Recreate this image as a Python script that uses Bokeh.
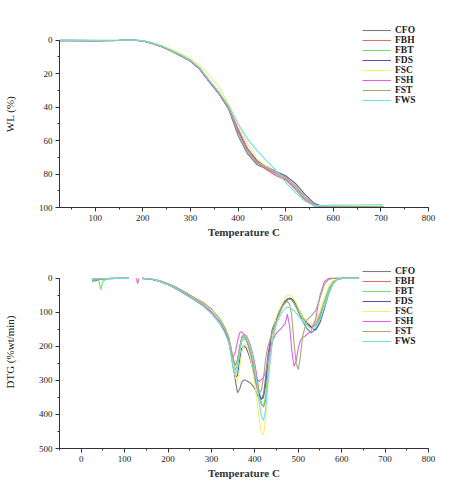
from bokeh.plotting import figure
from bokeh.layouts import column
from bokeh.models import Range1d, SingleIntervalTicker, Legend, LegendItem
from bokeh.embed import file_html
from bokeh.resources import INLINE

nan = float("nan")

names = ["CFO", "FBH", "FBT", "FDS", "FSC", "FSH", "FST", "FWS"]
colors = ["#7c7c7c", "#e07070", "#70dd70", "#5a5aa8", "#f2f070", "#dd66dd", "#a8a878", "#70e0e0"]

# ---------------- TGA (weight loss, %) ----------------
t_tga = [25, 50, 100, 150, 180, 200, 220, 240, 260, 280, 300, 320, 340, 360, 380,
         400, 420, 440, 460, 480, 500, 520, 540, 560, 580, 600, 650, 705]
wl_cfo = [0.3, 0.3, 0.4, 0.2, 0, 0.5, 2, 4, 6.5, 9, 12, 17.5, 25, 32, 41, 57, 68, 74.5, 77, 79.5, 82, 87.5, 94, 98.5, 99.5, 99.5, 99.4, 99.4]
wl_fbh = [0.2, 0.2, 0.3, 0.2, 0, 0.5, 2, 4, 6.5, 9.5, 12.5, 17.5, 25, 32, 40.5, 53, 65, 73, 77.5, 81, 83.5, 89, 95, 99, 99.6, 99.6, 99.6, 99.6]
wl_fbt = [0.3, 0.4, 0.3, 0.2, 0, 0.5, 2, 4, 6.5, 9.5, 12.5, 17.5, 25, 32, 40.5, 54, 66, 73, 76.5, 79.5, 83, 89, 95.5, 99.2, 99.5, 99.5, 99.5, 99.5]
wl_fds = [0.2, 0.2, 0.3, 0.2, 0, 0.4, 1.8, 3.8, 6.3, 9.3, 12.5, 17.5, 25, 32, 41, 54, 65, 72, 75.5, 78.5, 81, 85.5, 92, 97.5, 99.7, 99.7, 99.6, 99.6]
wl_fsc = [0.2, 0.2, 0.2, 0.1, 0, 0.3, 1.5, 3.3, 5.5, 8, 11, 15, 21, 28, 38, 50, 62, 71, 75.5, 79, 82.5, 88, 94.5, 98.8, 99.3, 99.3, 99.3, 99.3]
wl_fsh = [0.3, 0.3, 0.3, 0.2, 0, 0.5, 2, 4, 6.5, 9.5, 12.5, 17.5, 25, 32, 40.5, 53, 65, 73, 77, 80, 83, 88.5, 95, 99, 99.5, 99.5, 99.5, 99.5]
wl_fst = [0.3, 0.3, 0.3, 0.2, 0, 0.5, 2, 4, 6.5, 9.3, 12.3, 17.3, 24.5, 31.5, 41, 55, 67, 73.5, 76, 79, 82, 87, 93.5, 98.5, 99.4, 99.4, 99.4, 99.4]
wl_fws = [0.2, 0.2, 0.2, 0.1, 0, 0.3, 1.6, 3.5, 6, 8.8, 12, 16.5, 24, 31, 39, 50, 59, 66, 72, 78, 85, 91, 96, 99, 98.8, 98.6, 98.5, 98.3]
wl_all = [wl_cfo, wl_fbh, wl_fbt, wl_fds, wl_fsc, wl_fsh, wl_fst, wl_fws]

# ---------------- DTG (%wt/min) ----------------
t_early = [25, 30, 35, 40, 45, 50, 60, 80, 110, 120, 127, 130, 133]
t_main = [140, 160, 180, 200, 220, 240, 260, 280, 300, 320, 330, 340, 345, 350, 355, 360, 365, 370,
          375, 380, 385, 390, 395, 400, 405, 410, 415, 420, 425, 430, 440, 450, 460, 465, 470, 475,
          480, 485, 490, 495, 500, 505, 510, 520, 530, 540, 550, 560, 570, 580, 590, 600, 620, 640]

e_cfo = [5, 8, 6, 4, 3, 2, 1, 0.5, 0, nan, nan, nan, nan]
e_fbh = [3, 2, 2, 1, 1, 1, 0.5, 0, 0, nan, nan, nan, nan]
e_fbt = [12, 4, 3, 3, 33, 8, 2, 0.5, 0, nan, nan, nan, nan]
e_fds = [4, 3, 2, 2, 1, 1, 0.5, 0, 0, nan, nan, nan, nan]
e_fsc = [2, 2, 1, 1, 1, 1, 0.5, 0, 0, nan, nan, nan, nan]
e_fsh = [3, 2, 2, 1, 1, 1, 0.5, 0, 0, nan, 0, 15, 0]
e_fst = [3, 2, 2, 1, 1, 1, 0.5, 0, 0, nan, nan, nan, nan]
e_fws = [2, 2, 1, 1, 1, 1, 0.5, 0, 0, nan, nan, nan, nan]

d_cfo = [0, 2, 8, 18, 31, 46, 62, 78, 100, 130, 152, 180, 205, 245, 300, 336, 325, 305, 298, 300, 304, 308,
         315, 325, 340, 352, 356, 340, 290, 225, 150, 115, 88, 76, 66, 60, 60, 64, 72, 84, 98, 112, 126,
         148, 160, 150, 115, 70, 30, 8, 1, 0, 0, 0]
d_fbh = [0, 2, 7, 17, 30, 45, 60, 76, 98, 128, 150, 178, 205, 235, 255, 240, 200, 172, 165, 168, 180, 198,
         222, 252, 290, 335, 368, 378, 360, 300, 185, 125, 92, 80, 70, 63, 60, 62, 68, 78, 90, 102, 114,
         132, 142, 135, 105, 68, 32, 10, 2, 0, 0, 0]
d_fbt = [0, 2, 8, 18, 31, 46, 61, 77, 99, 128, 150, 178, 210, 245, 270, 255, 215, 185, 178, 182, 195, 215,
         240, 270, 305, 345, 372, 375, 345, 280, 175, 120, 90, 78, 68, 62, 60, 63, 70, 80, 93, 106, 118,
         135, 145, 138, 108, 70, 34, 12, 3, 0, 0, 0]
d_fds = [0, 2, 8, 18, 31, 47, 63, 80, 102, 132, 155, 185, 220, 262, 292, 285, 240, 205, 198, 205, 220, 240,
         265, 292, 318, 340, 355, 350, 310, 245, 160, 118, 90, 78, 68, 61, 58, 60, 66, 76, 88, 100, 112,
         130, 145, 152, 130, 90, 45, 15, 3, 0, 0, 0]
d_fsc = [0, 1, 6, 15, 27, 41, 56, 70, 90, 120, 142, 172, 205, 250, 290, 305, 265, 215, 192, 195, 210, 235,
         268, 310, 360, 415, 455, 460, 410, 310, 170, 110, 80, 66, 56, 50, 48, 52, 60, 72, 86, 100, 112,
         128, 135, 125, 95, 58, 25, 7, 1, 0, 0, 0]
d_fsh = [0, 2, 8, 18, 31, 46, 62, 78, 100, 132, 156, 188, 215, 232, 218, 185, 160, 157, 165, 180, 198, 220,
         245, 272, 295, 303, 298, 290, 275, 240, 185, 160, 148, 140, 133, 105, 140, 210, 258, 245, 205, 182,
         175, 165, 155, 120, 50, 10, 0, 0, 0, 0, 0, 0]
d_fst = [0, 1, 6, 15, 27, 41, 56, 70, 90, 120, 142, 172, 205, 240, 258, 240, 205, 178, 172, 178, 195, 220,
         255, 295, 325, 338, 330, 290, 235, 200, 160, 122, 92, 80, 72, 68, 75, 110, 185, 250, 268, 230, 170,
         122, 110, 95, 58, 18, 3, 0, 0, 0, 0, 0]
d_fws = [0, 2, 8, 18, 31, 47, 63, 80, 103, 134, 158, 188, 225, 262, 282, 265, 215, 178, 168, 172, 185, 205,
         232, 265, 310, 365, 405, 418, 385, 305, 185, 132, 105, 95, 88, 84, 86, 90, 95, 102, 110, 118, 125,
         138, 148, 145, 120, 85, 45, 15, 3, 0, 0, 0]
early_all = [e_cfo, e_fbh, e_fbt, e_fds, e_fsc, e_fsh, e_fst, e_fws]
main_all = [d_cfo, d_fbh, d_fbt, d_fds, d_fsc, d_fsh, d_fst, d_fws]

SERIF = "Liberation Serif"


def style(p, xlabel, ylabel, xint, yint, ylabel_font, ybounds):
    p.xaxis.ticker = SingleIntervalTicker(interval=xint, num_minor_ticks=2)
    p.yaxis.ticker = SingleIntervalTicker(interval=yint, num_minor_ticks=2)
    p.yaxis.bounds = ybounds
    p.xgrid.visible = False
    p.ygrid.visible = False
    p.outline_line_color = None
    for ax in (p.xaxis[0], p.yaxis[0]):
        ax.axis_line_color = "#333333"
        ax.major_tick_line_color = "#333333"
        ax.minor_tick_line_color = "#333333"
        ax.major_tick_out = 4
        ax.major_tick_in = 0
        ax.minor_tick_out = 2
        ax.minor_tick_in = 0
        ax.major_label_text_font = SERIF
        ax.major_label_text_font_size = "9px"
        ax.major_label_text_color = "#222222"
        ax.major_label_standoff = 3
    p.xaxis.axis_label = xlabel
    p.xaxis.axis_label_text_font = SERIF
    p.xaxis.axis_label_text_font_style = "bold"
    p.xaxis.axis_label_text_font_size = "11px"
    p.xaxis.axis_label_text_color = "#333333"
    p.xaxis.axis_label_standoff = 2
    p.yaxis.axis_label = ylabel
    p.yaxis.axis_label_text_font = ylabel_font
    p.yaxis.axis_label_text_font_style = "normal"
    p.yaxis.axis_label_text_font_size = "11px"
    p.yaxis.axis_label_text_color = "#222222"
    p.yaxis.axis_label_standoff = 20


def add_legend(p, rends, loc):
    items = [LegendItem(label=n, renderers=[r]) for n, r in zip(names, rends)]
    lg = Legend(items=items, location=loc, orientation="vertical")
    lg.label_text_font = SERIF
    lg.label_text_font_style = "bold"
    lg.label_text_font_size = "9.5px"
    lg.label_text_color = "#222222"
    lg.label_height = 10
    lg.glyph_height = 10
    lg.glyph_width = 29
    lg.label_standoff = 4
    lg.spacing = 0
    lg.padding = 2
    lg.margin = 0
    lg.border_line_color = None
    lg.background_fill_color = "white"
    lg.background_fill_alpha = 1.0
    p.add_layout(lg)


# top figure (frame extends above 0 so the legend fits; axis bounded to 0..100)
p1 = figure(width=450, height=240, output_backend="svg", toolbar_location=None,
            x_range=Range1d(25, 800), y_range=Range1d(100, -11.7),
            min_border_left=58, min_border_right=22, min_border_top=20, min_border_bottom=29)
style(p1, "Temperature C", "WL (%)", 100, 20, SERIF, (0, 100))
r1 = []
for n, c, ys in zip(names, colors, wl_all):
    r1.append(p1.line(t_tga, ys, line_color=c, line_width=1.1))
add_legend(p1, r1, (303, 102))

# bottom figure
p2 = figure(width=450, height=241, output_backend="svg", toolbar_location=None,
            x_range=Range1d(-50, 800), y_range=Range1d(500, -67.3),
            min_border_left=58, min_border_right=22, min_border_top=15, min_border_bottom=32)
style(p2, "Temperature C", "DTG (%wt/min)", 100, 100, "Liberation Sans Narrow", (0, 500))
r2 = []
t_dtg = t_early + [nan] + t_main
for n, c, e, m in zip(names, colors, early_all, main_all):
    r2.append(p2.line(t_dtg, e + [nan] + m, line_color=c, line_width=1.1))
add_legend(p2, r2, (303, 102))

layout = column(p1, p2, spacing=0)
open("out.html", "w").write(file_html(layout, INLINE))
